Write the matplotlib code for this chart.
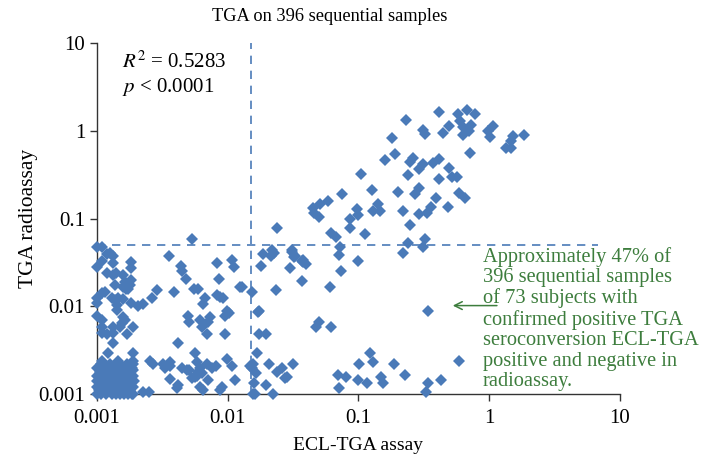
import matplotlib
matplotlib.use("Agg")
import matplotlib.pyplot as plt
from matplotlib.ticker import FixedLocator, FixedFormatter, NullLocator

# (ECL-TGA assay, TGA radioassay)
positive_both = [
    (0.41, 1.64), (0.58, 1.56), (0.68, 1.73), (0.78, 1.56), (0.23, 1.33), (0.60, 1.30),
    (0.49, 1.14), (0.73, 1.17), (0.63, 1.11), (1.07, 1.14), (0.31, 1.03), (0.44, 0.95),
    (0.32, 0.92), (0.70, 1.00), (0.63, 0.90), (0.98, 1.00), (1.02, 0.85), (1.52, 0.88),
    (1.85, 0.90), (1.47, 0.77), (1.35, 0.64), (1.47, 0.64), (0.18, 0.83), (0.71, 0.56),
    (0.19, 0.55), (0.16, 0.46), (0.26, 0.49), (0.25, 0.44), (0.31, 0.42), (0.29, 0.37),
    (0.37, 0.43), (0.41, 0.48), (0.49, 0.38), (0.105, 0.32), (0.24, 0.31), (0.41, 0.28),
    (0.52, 0.30), (0.57, 0.30), (0.127, 0.21), (0.29, 0.225), (0.27, 0.19), (0.20, 0.20),
    (0.075, 0.19), (0.058, 0.16), (0.051, 0.148), (0.045, 0.133), (0.046, 0.117),
    (0.050, 0.103), (0.098, 0.13), (0.10, 0.111), (0.14, 0.148), (0.13, 0.123),
    (0.146, 0.123), (0.086, 0.098), (0.086, 0.079), (0.22, 0.123), (0.29, 0.114),
    (0.335, 0.117), (0.36, 0.137), (0.39, 0.173), (0.48, 0.137), (0.59, 0.197),
    (0.65, 0.173), (0.25, 0.085), (0.112, 0.066), (0.062, 0.069), (0.067, 0.061),
    (0.024, 0.079), (0.32, 0.059), (0.24, 0.053), (0.0053, 0.059),
]

ecl_positive_only = [
    (0.31, 0.047), (0.072, 0.048), (0.022, 0.044), (0.031, 0.044), (0.071, 0.038),
    (0.0186, 0.039), (0.0228, 0.041), (0.0214, 0.037), (0.0327, 0.037), (0.0377, 0.034),
    (0.10, 0.033), (0.22, 0.041), (0.037, 0.033), (0.038, 0.032), (0.040, 0.030),
    (0.031, 0.042), (0.032, 0.036), (0.018, 0.029), (0.030, 0.027), (0.074, 0.025),
    (0.037, 0.0192), (0.061, 0.0164), (0.0129, 0.0164), (0.0153, 0.0144), (0.0234, 0.0152),
    (0.0174, 0.0088), (0.34, 0.0088), (0.050, 0.0067), (0.047, 0.0058), (0.062, 0.0058),
    (0.0174, 0.0048), (0.0196, 0.0048), (0.0168, 0.0029), (0.0148, 0.0021), (0.0156, 0.0022),
    (0.0153, 0.0020), (0.0165, 0.00175), (0.0206, 0.0022), (0.0237, 0.0018), (0.0259, 0.0020),
    (0.0275, 0.00152), (0.0284, 0.00156), (0.0315, 0.0022), (0.0159, 0.00133), (0.0196, 0.00127),
    (0.0156, 0.001), (0.0161, 0.001), (0.0222, 0.001), (0.070, 0.00164), (0.081, 0.00156),
    (0.071, 0.00117), (0.101, 0.0022), (0.123, 0.0029), (0.129, 0.0023), (0.099, 0.00144),
    (0.116, 0.00133), (0.149, 0.00156), (0.155, 0.00133), (0.187, 0.0022), (0.227, 0.00164),
    (0.34, 0.00133), (0.33, 0.00105), (0.43, 0.00144), (0.59, 0.0024), (0.017, 0.0085),
]

low_scattered = [
    (0.001, 0.047), (0.0011, 0.048), (0.00119, 0.039), (0.00133, 0.037), (0.00126, 0.040),
    (0.0011, 0.0325), (0.00133, 0.0308), (0.001, 0.0277), (0.00182, 0.0316), (0.00182, 0.027),
    (0.00356, 0.037), (0.0044, 0.0285), (0.0045, 0.025), (0.0048, 0.0203), (0.0083, 0.031),
    (0.0108, 0.034), (0.0112, 0.0277), (0.0086, 0.0203), (0.00119, 0.0237), (0.00133, 0.0225),
    (0.0014, 0.0237), (0.00158, 0.0225), (0.00164, 0.0187), (0.00182, 0.0197), (0.00179, 0.0173),
    (0.00137, 0.0173), (0.00158, 0.0164), (0.00167, 0.0156), (0.00173, 0.0156), (0.00115, 0.0144),
    (0.0011, 0.0141), (0.00288, 0.0152), (0.00388, 0.0144), (0.0055, 0.0156), (0.0059, 0.0156),
    (0.0124, 0.0164), (0.001, 0.0123), (0.001, 0.0108), (0.0013, 0.0123), (0.00137, 0.0117),
    (0.00145, 0.0123), (0.00158, 0.012), (0.00142, 0.0103), (0.00142, 0.0090), (0.00182, 0.0108),
    (0.00206, 0.010), (0.00225, 0.0105), (0.00263, 0.0123), (0.0067, 0.0123), (0.0065, 0.0105),
    (0.0083, 0.0133), (0.0087, 0.0127), (0.0092, 0.0123), (0.001, 0.0077), (0.00158, 0.0075),
    (0.00164, 0.0069), (0.00155, 0.0064), (0.0011, 0.0069), (0.0011, 0.0058), (0.00133, 0.0058),
    (0.0015, 0.0058), (0.00189, 0.0058), (0.0050, 0.0077), (0.0051, 0.0067), (0.0061, 0.0069),
    (0.0064, 0.0058), (0.0073, 0.0075), (0.0071, 0.0066), (0.0095, 0.0077), (0.0102, 0.0083),
    (0.0099, 0.0088), (0.00109, 0.0049), (0.00119, 0.0048), (0.00133, 0.0049), (0.0017, 0.0048),
    (0.00133, 0.0038), (0.0070, 0.0048), (0.0095, 0.0048), (0.0042, 0.0038), (0.0056, 0.0029),
    (0.00254, 0.0024), (0.00268, 0.0022), (0.0032, 0.0022), (0.0033, 0.0020), (0.0036, 0.0023),
    (0.0036, 0.0021), (0.0045, 0.0020), (0.0049, 0.0019), (0.0051, 0.00187), (0.0058, 0.0023),
    (0.0061, 0.0020), (0.0059, 0.00178), (0.0064, 0.00173), (0.0058, 0.0016), (0.0069, 0.0022),
    (0.0076, 0.0020), (0.0081, 0.0021), (0.0099, 0.0025), (0.0108, 0.0021), (0.0036, 0.00148),
    (0.0042, 0.00127), (0.0041, 0.00117), (0.0061, 0.0012), (0.0065, 0.0011), (0.0071, 0.00144),
    (0.0090, 0.0012), (0.0087, 0.0011), (0.0114, 0.00144), (0.00225, 0.00105), (0.0025, 0.00105),
    (0.0053, 0.00152), (0.0056, 0.00156), (0.00121, 0.0029), (0.00189, 0.0029),
]

cluster = [
    (0.001, 0.001), (0.00108, 0.001), (0.00118, 0.001), (0.0013, 0.001), (0.0014, 0.001),
    (0.0015, 0.001), (0.0016, 0.001), (0.00172, 0.001), (0.00185, 0.001), (0.0019, 0.001),
    (0.00104, 0.0011), (0.00122, 0.0011), (0.00135, 0.0011), (0.00155, 0.0011), (0.0017, 0.0011),
    (0.0018, 0.0011), (0.001, 0.0012), (0.00112, 0.0012), (0.00125, 0.0012), (0.0014, 0.0012),
    (0.0016, 0.0012), (0.00175, 0.0012), (0.0019, 0.0012), (0.00106, 0.0013), (0.0012, 0.0013),
    (0.00145, 0.0013), (0.00165, 0.0013), (0.0018, 0.0013), (0.001, 0.0014), (0.00115, 0.0014),
    (0.0013, 0.0014), (0.0015, 0.0014), (0.0017, 0.0014), (0.00192, 0.0014), (0.0011, 0.0015),
    (0.00125, 0.0015), (0.0014, 0.0015), (0.0016, 0.0015), (0.0018, 0.0015), (0.001, 0.0016),
    (0.0012, 0.0016), (0.00135, 0.0016), (0.0015, 0.0016), (0.00172, 0.0016), (0.0019, 0.0016),
    (0.00105, 0.0018), (0.0012, 0.0018), (0.0014, 0.0018), (0.0016, 0.0018), (0.0018, 0.0018),
    (0.00113, 0.0019), (0.0013, 0.0019), (0.00155, 0.0019), (0.00175, 0.0019), (0.0019, 0.0019),
    (0.001, 0.002), (0.0012, 0.002), (0.0014, 0.002), (0.0016, 0.002), (0.00185, 0.002),
    (0.00108, 0.0022), (0.00125, 0.0022), (0.0015, 0.0022), (0.0017, 0.0022), (0.0019, 0.0022),
    (0.0011, 0.0024), (0.00145, 0.0024), (0.0019, 0.0024),
]

ticks = [0.001, 0.01, 0.1, 1, 10]
tick_labels = ["0.001", "0.01", "0.1", "1", "10"]
cut_ecl = 0.015
cut_radio = 0.05

note = ("Approximately 47% of\n396 sequential samples\nof 73 subjects with\n"
        "confirmed positive TGA\nseroconversion ECL-TGA\npositive and negative in\nradioassay.")

plt.rcParams["font.family"] = ["Liberation Serif", "DejaVu Serif"]
plt.rcParams["mathtext.fontset"] = "stix"

blue = "#4a7ab8"
green = "#3d7d3d"

fig = plt.figure(figsize=(7.07, 4.59), dpi=100)
ax = fig.add_axes([0.137, 0.1416, 0.740, 0.7644])

points = positive_both + ecl_positive_only + low_scattered + cluster
xs = [p[0] for p in points]
ys = [p[1] for p in points]

ax.axvline(cut_ecl, color=blue, lw=1.2, ls=(0, (5, 4)), zorder=1)
ax.hlines(cut_radio, 0.001, 6.8, color=blue, lw=1.2, linestyles=[(0, (5, 4))], zorder=1)
ax.plot(xs, ys, "D", color=blue, markersize=5.8, markeredgewidth=0, clip_on=False, zorder=3)

ax.set_xscale("log")
ax.set_yscale("log")
ax.set_xlim(0.001, 10)
ax.set_ylim(0.001, 10)
for axis in (ax.xaxis, ax.yaxis):
    axis.set_major_locator(FixedLocator(ticks))
    axis.set_major_formatter(FixedFormatter(tick_labels))
    axis.set_minor_locator(NullLocator())
ax.tick_params(direction="out", length=5, width=1, color="#333333", labelsize=15)
ax.tick_params(axis="x", pad=6)
ax.spines["top"].set_visible(False)
ax.spines["right"].set_visible(False)
for s in ("left", "bottom"):
    ax.spines[s].set_color("#333333")
    ax.spines[s].set_linewidth(1.0)

ax.set_xlabel("ECL-TGA assay", fontsize=14, labelpad=6)
ax.set_ylabel("TGA radioassay", fontsize=15.5, labelpad=0)
fig.text(0.467, 0.965, "TGA on 396 sequential samples", ha="center", va="center", fontsize=13.2)

ax.text(0.048, 0.945, r"$R^2$ = 0.5283", transform=ax.transAxes, fontsize=15, va="center")
ax.text(0.048, 0.876, r"$p$ < 0.0001", transform=ax.transAxes, fontsize=15, va="center")

ax.text(0.738, 0.42, note, transform=ax.transAxes, fontsize=14.7, color=green,
        va="top", ha="left", linespacing=1.1, clip_on=False)
ax.annotate("", xy=(0.675, 0.252), xytext=(0.77, 0.252), xycoords="axes fraction",
            arrowprops=dict(arrowstyle="->", color=green, lw=1.1, mutation_scale=14))

fig.savefig("out.png", dpi=100)
